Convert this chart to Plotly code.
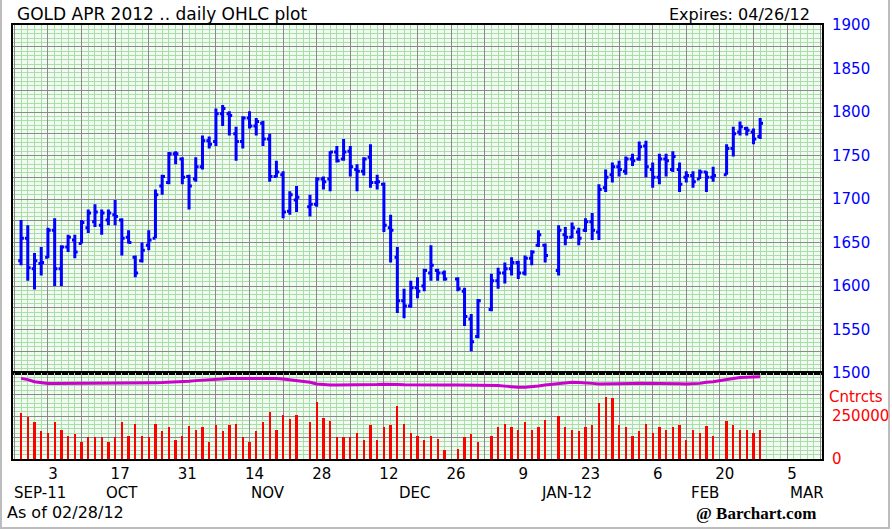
import numpy as np
import pandas as pd
import plotly.graph_objects as go

# ---------------- data ----------------
HOLIDAYS = ["2011-11-24", "2011-12-26", "2012-01-02", "2012-01-16", "2012-02-20"]
DATES = [d for d in pd.bdate_range("2011-09-27", "2012-02-28").strftime("%Y-%m-%d") if d not in HOLIDAYS]

OPEN = [1629, 1655, 1620, 1626, 1633, 1664, 1620, 1645, 1653, 1649, 1667, 1674, 1670, 1676, 1682, 1676, 1656, 1633, 1629, 1647,
        1655, 1715, 1719, 1752, 1746, 1726, 1723, 1737, 1767, 1766, 1798, 1798, 1775, 1766, 1793, 1784, 1787, 1769, 1726, 1728,
        1686, 1699, 1691, 1694, 1723, 1723, 1754, 1746, 1755, 1734, 1732, 1748, 1719, 1717, 1667, 1633, 1583, 1577, 1598, 1600,
        1615, 1618, 1615, 1608, 1594, 1562, 1542, 1573, 1606, 1615, 1620, 1627, 1615, 1632, 1647, 1647, 1618, 1659, 1656, 1662,
        1664, 1674, 1662, 1713, 1728, 1737, 1732, 1746, 1746, 1761, 1734, 1725, 1746, 1734, 1734, 1725, 1727, 1723, 1731, 1725,
        1728, 1758, 1777, 1781, 1777, 1772]
HIGH = [1676, 1670, 1638, 1645, 1667, 1678, 1647, 1659, 1659, 1676, 1688, 1694, 1688, 1688, 1699, 1678, 1664, 1635, 1650, 1664,
        1711, 1728, 1754, 1755, 1748, 1728, 1748, 1773, 1772, 1804, 1808, 1801, 1783, 1795, 1801, 1793, 1790, 1775, 1744, 1732,
        1709, 1715, 1705, 1725, 1726, 1755, 1761, 1769, 1761, 1740, 1748, 1763, 1728, 1719, 1682, 1645, 1597, 1606, 1610, 1620,
        1647, 1620, 1618, 1610, 1598, 1568, 1585, 1614, 1621, 1627, 1633, 1629, 1635, 1641, 1664, 1649, 1670, 1668, 1673, 1667,
        1678, 1684, 1717, 1734, 1742, 1744, 1749, 1752, 1766, 1767, 1742, 1752, 1752, 1755, 1742, 1732, 1732, 1734, 1732, 1737,
        1763, 1783, 1789, 1783, 1781, 1793]
LOW = [1624, 1606, 1596, 1612, 1632, 1600, 1600, 1639, 1632, 1649, 1661, 1668, 1659, 1670, 1670, 1635, 1649, 1610, 1627, 1641,
       1655, 1705, 1717, 1740, 1717, 1688, 1720, 1734, 1758, 1761, 1784, 1773, 1744, 1758, 1781, 1773, 1761, 1720, 1725, 1678,
       1682, 1685, 1680, 1691, 1711, 1709, 1742, 1744, 1726, 1709, 1727, 1713, 1711, 1662, 1627, 1569, 1563, 1575, 1586, 1594,
       1606, 1606, 1606, 1594, 1554, 1525, 1540, 1571, 1597, 1603, 1612, 1608, 1612, 1624, 1645, 1627, 1612, 1647, 1655, 1647,
       1662, 1653, 1653, 1708, 1719, 1726, 1728, 1738, 1744, 1725, 1713, 1717, 1726, 1731, 1708, 1719, 1713, 1723, 1708, 1720,
       1728, 1749, 1773, 1773, 1763, 1769]
CLOSE = [1655, 1621, 1629, 1627, 1664, 1620, 1645, 1656, 1639, 1673, 1684, 1685, 1684, 1684, 1680, 1655, 1650, 1615, 1641, 1653,
         1705, 1726, 1752, 1752, 1725, 1715, 1737, 1767, 1763, 1798, 1804, 1796, 1766, 1793, 1784, 1789, 1769, 1726, 1731, 1685,
         1705, 1702, 1694, 1723, 1720, 1754, 1744, 1754, 1737, 1732, 1746, 1719, 1720, 1670, 1664, 1583, 1577, 1598, 1594, 1618,
         1624, 1615, 1608, 1597, 1565, 1536, 1583, 1606, 1615, 1620, 1627, 1615, 1632, 1639, 1659, 1635, 1664, 1656, 1667, 1655,
         1674, 1664, 1711, 1725, 1737, 1734, 1746, 1744, 1760, 1737, 1725, 1746, 1744, 1749, 1717, 1727, 1720, 1731, 1725, 1727,
         1758, 1775, 1783, 1779, 1769, 1787]
VOLUME = [266, 246, 213, 163, 153, 213, 169, 134, 143, 101, 126, 126, 126, 101, 126, 213, 134, 203, 134, 126,
          203, 163, 184, 110, 134, 192, 169, 184, 101, 199, 163, 199, 203, 126, 101, 163, 213, 275, 169, 256,
          231, 256, 213, 333, 240, 221, 126, 126, 126, 153, 110, 199, 110, 184, 199, 308, 203, 153, 134, 110,
          134, 116, 54, 56, 126, 145, 101, 134, 188, 203, 184, 169, 213, 169, 188, 227, 250, 188, 169, 163,
          184, 199, 327, 362, 353, 197, 184, 134, 163, 203, 153, 184, 169, 184, 197, 110, 169, 153, 192, 134,
          221, 199, 169, 169, 153, 169]  # thousands of contracts
OPEN_INT = [469, 462, 450, 443, 440, 440, 440, 441, 440, 440, 441, 442, 440, 440, 440, 441, 442, 441, 443, 443,
            444, 445, 446, 448, 450, 453, 456, 459, 462, 466, 468, 469, 469, 469, 470, 472, 472, 471, 469, 466,
            462, 458, 446, 436, 432, 431, 430, 430, 431, 431, 432, 432, 433, 435, 436, 434, 432, 431, 430, 430,
            430, 430, 430, 430, 430, 430, 430, 430, 428, 424, 419, 417, 418, 420, 425, 430, 440, 444, 446, 445,
            444, 440, 436, 436, 437, 438, 440, 440, 441, 441, 440, 440, 440, 440, 438, 436, 437, 440, 446, 449,
            462, 469, 474, 476, 478, 478]  # thousands (plotted on the volume scale)

TICK_DATES = ["2011-10-03", "2011-10-17", "2011-10-31", "2011-11-14", "2011-11-28", "2011-12-12",
              "2011-12-26", "2012-01-09", "2012-01-23", "2012-02-06", "2012-02-20", "2012-03-05"]
TICK_LABELS = ["3", "17", "31", "14", "28", "12", "26", "9", "23", "6", "20", "5"]
MONTH_LABELS = ["SEP-11", "OCT", "NOV", "DEC", "JAN-12", "FEB", "MAR"]
MONTH_POS = [-1.2, 11.0, 32.7, 54.6, 77.2, 97.8, 113.0]
PRICE_TICKS = list(range(1500, 1901, 25))
VOL_TICKS = [0, 125000, 250000, 375000, 500000]
VOL_LABELS = ["0", "", "250000", "", ""]

# ---------------- scales ----------------
ORIGIN = np.datetime64("2011-10-03")
xi = np.busday_count(ORIGIN, np.array(DATES, dtype="datetime64[D]"))
week_dates = np.arange(np.datetime64("2011-09-26"), np.datetime64("2012-03-13"), 7)
grid_vals = np.busday_count(ORIGIN, week_dates).tolist()
lab = dict(zip(TICK_DATES, TICK_LABELS))
grid_text = [lab.get(str(d), "") for d in week_dates]

vol = [v * 1000 for v in VOLUME]
oi = [v * 1000 for v in OPEN_INT]

FONT = "DejaVu Sans"
GRID = "#8a8a8a"
MINOR = "#a9dea9"

fig = go.Figure()
fig.add_trace(go.Ohlc(x=xi, open=OPEN, high=HIGH, low=LOW, close=CLOSE,
                      increasing=dict(line=dict(color="#0000ff", width=3)),
                      decreasing=dict(line=dict(color="#0000ff", width=3)),
                      tickwidth=0.42, xaxis="x", yaxis="y", showlegend=False, hoverinfo="skip"))
fig.add_trace(go.Bar(x=xi, y=vol, width=0.34, marker=dict(color="#ff0000", line=dict(width=0)),
                     xaxis="x2", yaxis="y2", showlegend=False, hoverinfo="skip"))
fig.add_trace(go.Scatter(x=xi, y=oi, mode="lines", line=dict(color="#cc00cc", width=3),
                         xaxis="x2", yaxis="y2", showlegend=False, hoverinfo="skip"))

xcommon = dict(range=[-5.2, 115.2], tickmode="array", tickvals=grid_vals, ticktext=grid_text,
               showgrid=True, gridcolor=GRID, gridwidth=1.3, zeroline=False, automargin=False,
               minor=dict(tickmode="linear", tick0=0, dtick=1, showgrid=True, gridcolor=MINOR, gridwidth=1),
               showline=True, linecolor="black", linewidth=2, mirror=True, ticks="")
ycommon = dict(side="right", tickmode="array", showgrid=True, gridcolor=GRID, gridwidth=1.3, zeroline=False,
               automargin=False, showline=True, linecolor="black", linewidth=2, mirror=True, ticks="",
               ticklabelstandoff=5)

fig.update_layout(
    width=892, height=530,
    margin=dict(l=13, r=70, t=25, b=71, autoexpand=False),
    paper_bgcolor="white", plot_bgcolor="#f2fbf2",
    font=dict(family=FONT, size=15, color="black"),
    bargap=0,
    xaxis=dict(**xcommon, anchor="y", showticklabels=False, rangeslider=dict(visible=False)),
    xaxis2=dict(**xcommon, anchor="y2", showticklabels=True, ticklabelstandoff=0, ticklabelshift=5,
                tickfont=dict(family=FONT, size=15, color="black")),
    yaxis=dict(**ycommon, domain=[0.198, 1], range=[1500, 1900], anchor="x",
               tickvals=PRICE_TICKS, ticktext=[str(t) if t % 50 == 0 else "" for t in PRICE_TICKS],
               tickfont=dict(family=FONT, size=15, color="#0000ff"),
               minor=dict(tickmode="linear", tick0=1500, dtick=5, showgrid=True, gridcolor=MINOR, gridwidth=1)),
    yaxis2=dict(**ycommon, domain=[0, 0.198], range=[0, 500000], anchor="x2",
                tickvals=VOL_TICKS, ticktext=VOL_LABELS,
                tickfont=dict(family=FONT, size=15, color="#ff0000"),
                minor=dict(tickmode="linear", tick0=0, dtick=25000, showgrid=True, gridcolor=MINOR, gridwidth=1)),
)

ann = [
    dict(text="GOLD APR 2012 .. daily OHLC plot", x=0.0025, y=1.0253, xanchor="left", yanchor="middle",
         font=dict(family=FONT, size=17)),
    dict(text="Expires: 04/26/12", x=0.9876, y=1.0253, xanchor="right", yanchor="middle",
         font=dict(family=FONT, size=16)),
    dict(text="Cntrcts", x=1.0062, y=(459 - 397) / 434, xanchor="left", yanchor="middle",
         font=dict(family=FONT, size=15, color="#ff0000")),
    dict(text="As of 02/28/12", x=-0.0099, y=(459 - 512) / 434, xanchor="left", yanchor="middle",
         font=dict(family=FONT, size=16)),
    dict(text="<b>@ Barchart.com</b>", x=(756 - 13) / 809, y=(459 - 513) / 434, xanchor="center", yanchor="middle",
         font=dict(family="Liberation Serif", size=17)),
]
for a in ann:
    a.update(xref="paper", yref="paper", showarrow=False)
for m, p in zip(MONTH_LABELS, MONTH_POS):
    ann.append(dict(text=m, x=p, xref="x2", y=(459 - 493) / 434, yref="paper", xanchor="center",
                    yanchor="middle", showarrow=False, font=dict(family=FONT, size=15)))
fig.update_layout(annotations=ann)

fig.add_shape(type="rect", xref="paper", yref="paper",
              x0=(1 - 13) / 809, x1=(889 - 13) / 809, y0=(459 - 528) / 434, y1=(459 + 5) / 434,
              line=dict(color="#bdbdbd", width=2), fillcolor="rgba(0,0,0,0)", layer="below")

fig.write_html("out.html", config={"displayModeBar": False},
               post_script="document.body.style.margin='0';document.body.style.padding='0';"
                           "document.body.style.overflow='hidden';")
